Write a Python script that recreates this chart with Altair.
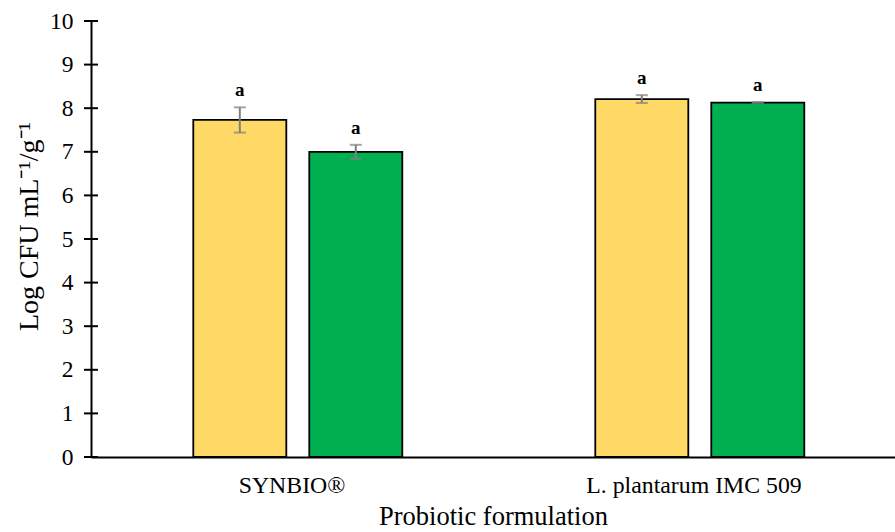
import altair as alt
import pandas as pd

groups = ["SYNBIO®", "SYNBIO®", "L. plantarum IMC 509", "L. plantarum IMC 509"]
series = ["Series 1", "Series 2", "Series 1", "Series 2"]
means = [7.73, 7.00, 8.21, 8.13]
sds = [0.29, 0.16, 0.09, 0.01]
letters = ["a", "a", "a", "a"]
y_ticks = [0, 1, 2, 3, 4, 5, 6, 7, 8, 9, 10]

group_order = ["SYNBIO®", "L. plantarum IMC 509"]
series_order = ["Series 1", "Series 2"]
colors = ["#FFD966", "#00B050"]

df = pd.DataFrame({"group": groups, "series": series, "mean": means, "sd": sds, "letter": letters})
df["lo"] = df["mean"] - df["sd"]
df["hi"] = df["mean"] + df["sd"]
ticks_df = pd.DataFrame({"v": y_ticks})

FONT = "Liberation Serif"

x_enc = alt.X("group:N", sort=group_order,
              scale=alt.Scale(domain=group_order, paddingInner=0, paddingOuter=0),
              axis=alt.Axis(title="Probiotic formulation", labelAngle=0, ticks=False, grid=False,
                            labelFontSize=23.8, titleFontSize=26.5, labelPadding=16, labelLimit=500,
                            titleY=46, domainColor="black", domainWidth=2,
                            labelColor="black", titleColor="black", titleFontWeight="normal"))
xoff = alt.XOffset("series:N", sort=series_order,
                   scale=alt.Scale(domain=series_order, paddingInner=0.198, paddingOuter=0.832,
                                   align=0.53))
y_scale = alt.Scale(domain=[0, 10], nice=False, zero=True)

bars = alt.Chart(df).mark_bar(stroke="black", strokeWidth=1.8).encode(
    x=x_enc,
    xOffset=xoff,
    y=alt.Y("mean:Q", scale=y_scale,
            axis=alt.Axis(title="Log CFU mL⁻¹/g⁻¹", values=y_ticks, ticks=False, grid=False,
                          labelFontSize=23.5, titleFontSize=28, labelPadding=18,
                          titleX=-48, titleY=205,
                          domainColor="black", domainWidth=2, labelColor="black",
                          titleColor="black", titleFontWeight="normal")),
    color=alt.Color("series:N", sort=series_order,
                    scale=alt.Scale(domain=series_order, range=colors), legend=None),
)

err = alt.Chart(df).mark_rule(color="#7F7F7F", strokeWidth=2).encode(
    x=alt.X("group:N", sort=group_order), xOffset=xoff,
    y=alt.Y("lo:Q", scale=y_scale), y2="hi:Q")

caps_hi = alt.Chart(df).mark_tick(color="#7F7F7F", thickness=2, size=12, orient="horizontal").encode(
    x=alt.X("group:N", sort=group_order), xOffset=xoff, y=alt.Y("hi:Q", scale=y_scale))
caps_lo = alt.Chart(df).mark_tick(color="#7F7F7F", thickness=2, size=12, orient="horizontal").encode(
    x=alt.X("group:N", sort=group_order), xOffset=xoff, y=alt.Y("lo:Q", scale=y_scale))

labels = alt.Chart(df).mark_text(font=FONT, fontSize=19, fontWeight="bold", color="black",
                                 baseline="alphabetic", dy=-11).encode(
    x=alt.X("group:N", sort=group_order), xOffset=xoff,
    y=alt.Y("hi:Q", scale=y_scale), text="letter:N")

yticks = alt.Chart(ticks_df).mark_rule(color="black", strokeWidth=2).encode(
    x=alt.value(-7), x2=alt.value(7), y=alt.Y("v:Q", scale=y_scale))

chart = alt.layer(bars, err, caps_hi, caps_lo, labels, yticks).properties(
    width=804, height=436,
    autosize=alt.AutoSizeParams(type="none"),
    padding={"left": 91, "top": 21, "right": 0, "bottom": 75},
).configure(font=FONT, background="white").configure_view(
    stroke="transparent", strokeWidth=0).configure_axis(grid=False)

chart.save("out.html", embed_options={"renderer": "svg", "actions": False})
